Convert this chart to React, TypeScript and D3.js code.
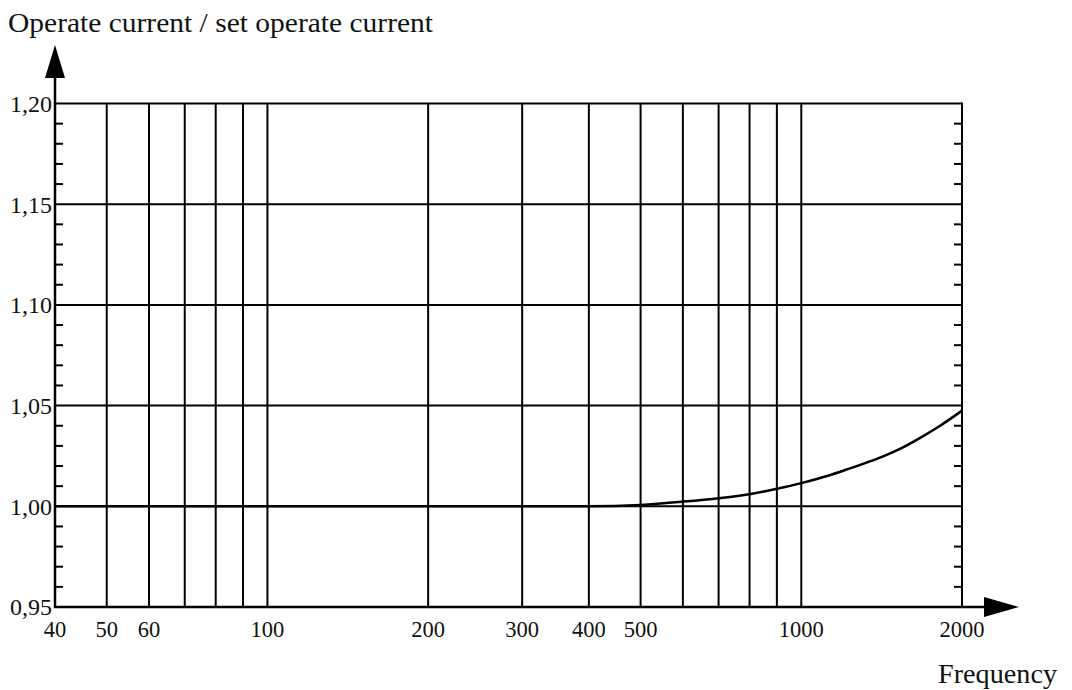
import React from "react";
import * as d3 from "d3";

const xGridValues = [50, 60, 70, 80, 90, 100, 200, 300, 400, 500, 600, 700, 800, 900, 1000];
const xTickLabels = [40, 50, 60, 100, 200, 300, 400, 500, 1000, 2000];
const yMajorTicks = [0.95, 1.0, 1.05, 1.1, 1.15, 1.2];
const yMinorTicks = [0.96, 0.97, 0.98, 0.99, 1.01, 1.02, 1.03, 1.04, 1.06, 1.07, 1.08, 1.09, 1.11, 1.12, 1.13, 1.14, 1.16, 1.17, 1.18, 1.19];
const freq = [40, 100, 200, 300, 400, 500, 600, 700, 800, 900, 1000, 1130, 1230, 1400, 1530, 1670, 1820, 2000];
const ratio = [1.0, 1.0, 1.0, 1.0, 1.0, 1.0007, 1.0023, 1.004, 1.006, 1.0087, 1.0115, 1.0154, 1.0187, 1.024, 1.0285, 1.034, 1.04, 1.0475];

const yTitle = "Operate current / set operate current";
const xTitle = "Frequency";

const W = 1072, H = 690;
const L = 55, R = 962, T = 103.5, B = 607;

export default function App() {
  const x = d3.scaleLog().domain([40, 2000]).range([L, R]);
  const y = d3.scaleLinear().domain([0.95, 1.2]).range([B, T]);
  const line = d3.line<number>().x((_, i) => x(freq[i])).y((d) => y(d)).curve(d3.curveMonotoneX);
  const fmt = (v: number) => v.toFixed(2).replace(".", ",");
  const font = "'Liberation Serif', 'Times New Roman', serif";
  return (
    <svg width={W} height={H} style={{ position: "absolute", left: 0, top: 0, background: "#fff" }}>
      <rect width={W} height={H} fill="#fff" />
      <text x={8} y={32} fontFamily={font} fontSize={27} fill="#111" textLength={425} lengthAdjust="spacingAndGlyphs">{yTitle}</text>
      <text x={938} y={683} fontFamily={font} fontSize={27} fill="#111" textLength={119} lengthAdjust="spacingAndGlyphs">{xTitle}</text>
      {xGridValues.map((v) => (
        <line key={"vg" + v} x1={x(v)} x2={x(v)} y1={T} y2={B} stroke="#000" strokeWidth={2} />
      ))}
      {yMajorTicks.map((v) => (
        <line key={"hg" + v} x1={L} x2={R} y1={y(v)} y2={y(v)} stroke="#000" strokeWidth={2} />
      ))}
      {yMinorTicks.map((v) => (
        <g key={"mt" + v}>
          <line x1={L} x2={L + 8} y1={y(v)} y2={y(v)} stroke="#000" strokeWidth={2} />
          <line x1={R - 8} x2={R} y1={y(v)} y2={y(v)} stroke="#000" strokeWidth={2} />
        </g>
      ))}
      <line x1={R} x2={R} y1={T - 1} y2={B} stroke="#000" strokeWidth={2} />
      <line x1={L} x2={L} y1={B + 1} y2={76} stroke="#000" strokeWidth={2.5} />
      <path d={`M${L},45 L${L - 10},78 L${L + 10},78 Z`} fill="#000" />
      <line x1={L - 1} x2={986} y1={B} y2={B} stroke="#000" strokeWidth={2.5} />
      <path d={`M1019,${B} L984,${B - 10} L984,${B + 10} Z`} fill="#000" />
      {yMajorTicks.map((v) => (
        <text key={"yl" + v} x={L - 3} y={y(v)} dy="0.35em" textAnchor="end" fontFamily={font} fontSize={24} fill="#111">{fmt(v)}</text>
      ))}
      {xTickLabels.map((v) => (
        <text key={"xl" + v} x={x(v)} y={629} dy="0.35em" textAnchor="middle" fontFamily={font} fontSize={22.5} fill="#111">{v}</text>
      ))}
      <path d={line(ratio) || ""} fill="none" stroke="#000" strokeWidth={2.5} />
    </svg>
  );
}
